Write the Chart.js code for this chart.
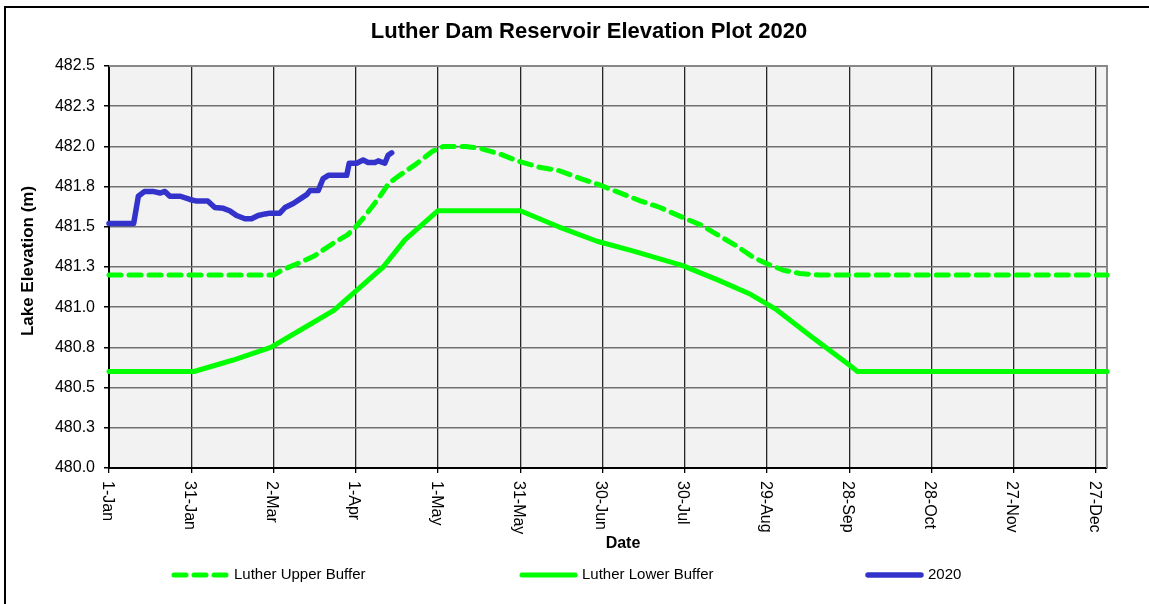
<!DOCTYPE html>
<html>
<head>
<meta charset="utf-8">
<script src="https://cdn.jsdelivr.net/npm/chart.js@4.4.1/dist/chart.umd.min.js"></script>
<style>
html,body{margin:0;padding:0;background:#fff;}
#wrap{width:1149px;height:604px;position:relative;}
</style>
</head>
<body>
<div id="wrap"><canvas id="c" width="1149" height="604"></canvas></div>
<script>
// ---------- data ----------
const chartTitle = 'Luther Dam Reservoir Elevation Plot 2020';
const xAxisTitle = 'Date';
const yAxisTitle = 'Lake Elevation (m)';
const seriesNames = ['Luther Upper Buffer', 'Luther Lower Buffer', '2020'];

const xTickDays = [0, 30, 60, 90, 120, 150, 180, 210, 240, 270, 300, 330, 360];
const xTickLabels = ['1-Jan','31-Jan','2-Mar','1-Apr','1-May','31-May','30-Jun','30-Jul','29-Aug','28-Sep','28-Oct','27-Nov','27-Dec'];
const yTickValues = [480, 480.25, 480.5, 480.75, 481, 481.25, 481.5, 481.75, 482, 482.25, 482.5];
const yTickLabels = ['480.0','480.3','480.5','480.8','481.0','481.3','481.5','481.8','482.0','482.3','482.5'];

const upperDays   = [0, 60, 63, 70, 75, 82, 87, 90, 93, 98, 102, 106, 112, 118, 122, 130, 135, 143, 149, 157, 164, 172, 179, 185, 194, 201, 209, 216, 222, 229, 235, 240, 246, 252, 259, 364];
const upperValues = [481.2, 481.2, 481.23, 481.28, 481.32, 481.4, 481.45, 481.5, 481.56, 481.67, 481.77, 481.82, 481.89, 481.97, 482.0, 482.0, 481.99, 481.95, 481.91, 481.87, 481.85, 481.8, 481.76, 481.72, 481.66, 481.62, 481.56, 481.51, 481.45, 481.38, 481.31, 481.27, 481.23, 481.21, 481.2, 481.2];

const lowerDays   = [0, 31, 45, 59, 72, 82, 90, 100, 108, 120, 150, 164, 178, 191, 209, 222, 234, 243, 256, 270, 273, 364];
const lowerValues = [480.6, 480.6, 480.67, 480.75, 480.88, 480.98, 481.1, 481.25, 481.42, 481.6, 481.6, 481.5, 481.41, 481.35, 481.26, 481.17, 481.08, 480.99, 480.82, 480.64, 480.6, 480.6];

const obsDays   = [0, 9, 10.7, 13, 16, 18.6, 20.4, 22.2, 26, 29.5, 32, 36, 38.6, 41.7, 44, 46.5, 49.6, 52, 54.4, 57, 58.7, 62.3, 64.2, 67.2, 70.3, 72.1, 73.3, 76.3, 78.1, 80, 86.7, 87.6, 90.3, 92.7, 94.5, 97, 98.2, 100.6, 101.8, 103.1];
const obsValues = [481.52, 481.52, 481.69, 481.72, 481.72, 481.71, 481.72, 481.69, 481.69, 481.67, 481.66, 481.66, 481.62, 481.615, 481.6, 481.57, 481.55, 481.55, 481.57, 481.58, 481.585, 481.585, 481.62, 481.645, 481.68, 481.70, 481.725, 481.725, 481.80, 481.82, 481.82, 481.895, 481.895, 481.915, 481.90, 481.90, 481.91, 481.895, 481.945, 481.96];

// ---------- helpers ----------
const FONT = "'Liberation Sans', Arial, 'DejaVu Sans', sans-serif";
const toPts = (xs, ys) => xs.map((x, i) => ({x: x, y: ys[i]}));

const legendLayout = [
  {x: 172, y: 575},
  {x: 520, y: 575},
  {x: 866, y: 575}
];

const deco = {
  id: 'deco',
  beforeDraw(chart) {
    const {ctx, chartArea: a} = chart;
    ctx.save();
    ctx.fillStyle = '#ffffff';
    ctx.fillRect(0, 0, chart.width, chart.height);
    ctx.fillStyle = '#f2f2f2';
    ctx.fillRect(a.left, a.top, a.right - a.left, a.bottom - a.top);
    ctx.restore();
  },
  beforeDatasetsDraw(chart) {
    const {ctx, chartArea: a} = chart;
    ctx.save();
    ctx.strokeStyle = '#888888';
    ctx.lineWidth = 2;
    ctx.beginPath();
    ctx.moveTo(a.left, a.top);
    ctx.lineTo(a.right, a.top);
    ctx.lineTo(a.right, a.bottom);
    ctx.stroke();
    ctx.restore();
  },
  afterDraw(chart) {
    const {ctx, chartArea: a} = chart;
    const xs = chart.scales.x;
    ctx.save();
    // outer frame (left & top visible)
    ctx.strokeStyle = '#000';
    ctx.lineWidth = 2;
    ctx.beginPath();
    ctx.moveTo(5, chart.height);
    ctx.lineTo(5, 7);
    ctx.lineTo(chart.width, 7);
    ctx.stroke();

    // title
    ctx.fillStyle = '#000';
    ctx.font = 'bold 22px ' + FONT;
    ctx.textAlign = 'center';
    ctx.textBaseline = 'alphabetic';
    ctx.fillText(chartTitle, 589, 38);

    // x tick labels rotated clockwise
    ctx.font = '16px ' + FONT;
    ctx.textAlign = 'left';
    ctx.textBaseline = 'middle';
    xTickDays.forEach((d, i) => {
      const px = xs.getPixelForValue(d);
      ctx.save();
      ctx.translate(px - 2, a.bottom + 13);
      ctx.rotate(Math.PI / 2);
      ctx.fillText(xTickLabels[i], 0, 0);
      ctx.restore();
    });

    // x axis title
    ctx.font = 'bold 16px ' + FONT;
    ctx.textAlign = 'center';
    ctx.textBaseline = 'middle';
    ctx.fillText(xAxisTitle, 623, 544);

    // y axis title
    ctx.save();
    ctx.font = 'bold 17px ' + FONT;
    ctx.translate(33, 261);
    ctx.rotate(-Math.PI / 2);
    ctx.textAlign = 'center';
    ctx.textBaseline = 'alphabetic';
    ctx.fillText(yAxisTitle, 0, 0);
    ctx.restore();

    // legend
    chart.data.datasets.forEach((ds, i) => {
      const L = legendLayout[i];
      ctx.save();
      ctx.strokeStyle = ds.borderColor;
      ctx.lineWidth = ds.borderWidth;
      ctx.lineCap = 'round';
      ctx.setLineDash(ds.borderDash || []);
      ctx.beginPath();
      ctx.moveTo(L.x + 2, L.y);
      ctx.lineTo(L.x + 55, L.y);
      ctx.stroke();
      ctx.restore();
      ctx.fillStyle = '#000';
      ctx.font = '15px ' + FONT;
      ctx.textAlign = 'left';
      ctx.textBaseline = 'middle';
      ctx.fillText(ds.label, L.x + 62, L.y);
    });
    ctx.restore();
  }
};

new Chart(document.getElementById('c'), {
  type: 'line',
  data: {
    datasets: [
      {
        label: seriesNames[0],
        data: toPts(upperDays, upperValues),
        borderColor: '#00ff00',
        borderWidth: 5,
        borderDash: [12, 8],
        borderCapStyle: 'round',
        borderJoinStyle: 'round',
        pointRadius: 0,
        tension: 0,
        clip: false
      },
      {
        label: seriesNames[1],
        data: toPts(lowerDays, lowerValues),
        borderColor: '#00ff00',
        borderWidth: 5,
        borderCapStyle: 'round',
        borderJoinStyle: 'round',
        pointRadius: 0,
        tension: 0,
        clip: false
      },
      {
        label: seriesNames[2],
        data: toPts(obsDays, obsValues),
        borderColor: '#3333cc',
        borderWidth: 5.5,
        borderCapStyle: 'round',
        borderJoinStyle: 'round',
        pointRadius: 0,
        tension: 0,
        clip: false
      }
    ]
  },
  options: {
    responsive: false,
    devicePixelRatio: 1,
    animation: false,
    layout: {padding: {top: 66, right: 42, left: 0, bottom: 0}},
    plugins: {
      legend: {display: false},
      title: {display: false},
      tooltip: {enabled: false}
    },
    scales: {
      x: {
        type: 'linear',
        min: 0,
        max: 364,
        afterBuildTicks: s => { s.ticks = xTickDays.map(v => ({value: v})); },
        afterFit: s => { s.height = 136; },
        ticks: {display: false},
        grid: {color: '#262626', lineWidth: 1.3, tickLength: 5, tickColor: '#000', drawTicks: true},
        border: {color: '#000', width: 2}
      },
      y: {
        type: 'linear',
        min: 480,
        max: 482.5,
        afterBuildTicks: s => { s.ticks = yTickValues.map(v => ({value: v})); },
        afterFit: s => { s.width = 109; },
        ticks: {
          callback: (v, i) => yTickLabels[i],
          font: {family: FONT, size: 16},
          color: '#000',
          padding: 9
        },
        grid: {color: '#707070', lineWidth: 1.5, tickLength: 5, tickColor: '#000'},
        border: {color: '#000', width: 2}
      }
    }
  },
  plugins: [deco]
});
</script>
</body>
</html>
